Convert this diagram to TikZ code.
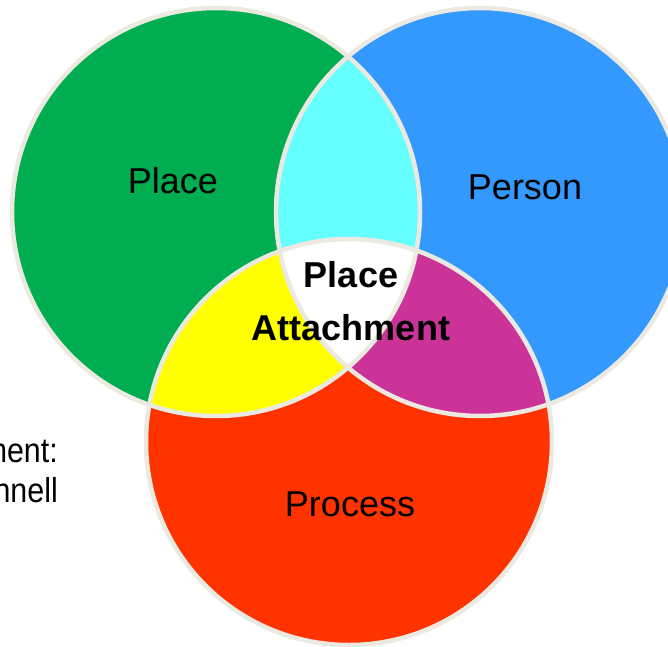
\documentclass[tikz,border=0pt]{standalone}
\usepackage{fontspec}
\setmainfont{Liberation Sans}
\definecolor{cgreen}{HTML}{00AD50}
\definecolor{cblue}{HTML}{3399FF}
\definecolor{ccyan}{HTML}{66FFFF}
\definecolor{cyellow}{HTML}{FFFF00}
\definecolor{cmagenta}{HTML}{CC3399}
\definecolor{cred}{HTML}{FF3300}
\definecolor{crim}{HTML}{ECE9E1}
\begin{document}
\begin{tikzpicture}[x=1pt,y=-1pt,
  rim/.style={draw=crim,line width=4.5pt},
  big/.style={font=\fontsize{36}{40}\selectfont,anchor=base,inner sep=0pt},
  bigb/.style={font=\fontsize{36}{40}\selectfont\bfseries,anchor=base,inner sep=0pt},
  side/.style={font=\fontsize{32}{36}\selectfont,anchor=base east,inner sep=0pt}]
\useasboundingbox (0,0) rectangle (668,646);
\clip (0,0) rectangle (668,646);
\coordinate (G) at (216,212);
\coordinate (B) at (480,212);
\coordinate (R) at (349,442);
% base circles
\fill[cgreen] (G) circle (204pt);
\fill[cblue] (B) circle (204pt);
\fill[cred] (R) circle (203pt);
% pairwise overlaps
\begin{scope}
  \clip (G) circle (204pt);
  \fill[ccyan] (B) circle (204pt);
  \fill[cyellow] (R) circle (203pt);
\end{scope}
\begin{scope}
  \clip (B) circle (204pt);
  \fill[cmagenta] (R) circle (203pt);
\end{scope}
% triple overlap
\begin{scope}
  \clip (G) circle (204pt);
  \clip (B) circle (204pt);
  \fill[white] (R) circle (203pt);
\end{scope}
% outlines
\draw[rim] (G) circle (204pt);
\draw[rim] (B) circle (204pt);
\draw[rim] (R) circle (203pt);
% labels
\node[big] (place) at (173,193) {Place};
\node[big] (person) at (525,199) {Person};
\node[big] (process) at (350,516) {Process};
\node[bigb] (pa1) at (351,287) {Place};
\node[bigb] (pa2) at (351,340) {Attachment};
\node[side] (s1) at (58,462) {\scalebox{0.95}[1.08]{ment:}};
\node[side] (s2) at (58,502) {\scalebox{0.95}[1.08]{nnell}};
\end{tikzpicture}
\end{document}
